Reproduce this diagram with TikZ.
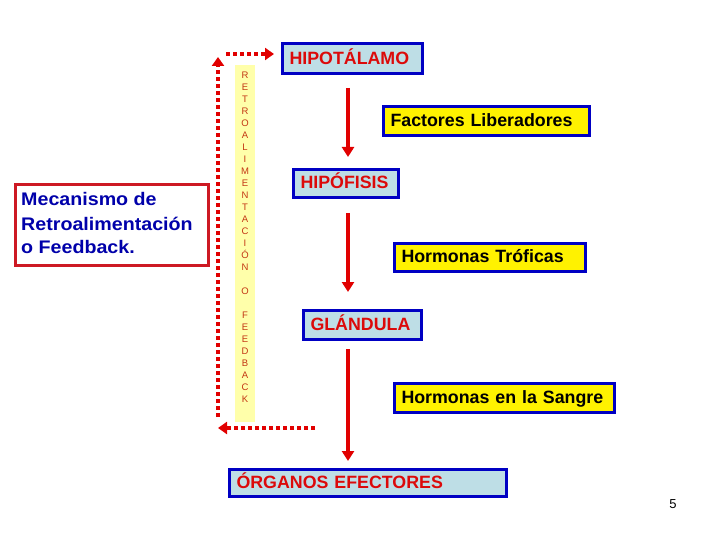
\documentclass[tikz,border=0pt]{standalone}
\usepackage{fontspec}
\setmainfont{Liberation Sans}
\newfontfamily\mfont[FakeStretch=1.08]{Liberation Sans Bold}
\usetikzlibrary{arrows.meta}
\definecolor{lblue}{RGB}{190,222,230}
\definecolor{bborder}{RGB}{0,0,195}
\definecolor{ared}{RGB}{225,0,0}
\definecolor{tred}{RGB}{220,10,10}
\definecolor{mborder}{RGB}{205,25,35}
\definecolor{mtext}{RGB}{0,0,170}
\definecolor{stripy}{RGB}{255,255,170}
\definecolor{stript}{RGB}{195,55,20}
\begin{document}
\begin{tikzpicture}[x=1pt,y=-1pt,
  box/.style={draw=bborder, line width=3pt, inner xsep=7pt, inner ysep=0pt,
    align=left, text height=12.7pt, text depth=2pt,
    font=\fontsize{17.8}{20}\selectfont\bfseries},
  bluebox/.style={box, fill=lblue, text=tred},
  yelbox/.style={box, fill=yellow, text=black},
  redarrow/.style={draw=ared, line width=4pt, -{Triangle[length=10pt,width=12pt]}},
  dotarrow/.style={draw=ared, line width=4pt, dash pattern=on 4pt off 3pt,
    -{Triangle[length=9pt,width=12pt]}},
  mline/.style={anchor=base west, inner sep=0pt, text=mtext,
    font=\mfont\fontsize{18.2}{24}\selectfont},
  stripletter/.style={anchor=base, inner sep=0pt, text=stript,
    font=\fontsize{9.5}{12}\selectfont}
]
\useasboundingbox (0,0) rectangle (720,540);

% yellow strip
\node[fill=stripy, minimum width=20pt, minimum height=357pt, inner sep=0pt] (strip) at (245,243.5) {};
\foreach \l [count=\i] in {R,E,T,R,O,A,L,I,M,E,N,T,A,C,I,Ó,N,{},O,{},F,E,E,D,B,A,C,K}
  \node[stripletter] (s\i) at (245,{75+12*(\i-1)+3.4}) {\l};

% boxes
\node[bluebox, minimum width=140pt, minimum height=30pt, text width=126pt] (hipot) at (352.5,58.8) {HIPOTÁLAMO};
\node[yelbox, minimum width=206pt, minimum height=29pt, text width=192pt] (fact) at (486.5,121) {Factores Liberadores};
\node[bluebox, minimum width=105pt, minimum height=28pt, text width=91pt] (hipof) at (346,183.5) {HIPÓFISIS};
\node[yelbox, minimum width=191pt, minimum height=28pt, text width=177pt] (trof) at (490,257.5) {Hormonas Tróficas};
\node[bluebox, minimum width=118pt, minimum height=29pt, text width=104pt] (gland) at (362.5,325) {GLÁNDULA};
\node[yelbox, minimum width=220pt, minimum height=29pt, text width=206pt] (sang) at (504.5,398) {Hormonas en la Sangre};
\node[bluebox, minimum width=277pt, minimum height=27pt, text width=263pt] (organ) at (368,483) {ÓRGANOS EFECTORES};

% mecanismo box
\node[draw=mborder, line width=3pt, fill=white, minimum width=193pt, minimum height=81pt, inner sep=0pt] (mech) at (112,225) {};
\node[mline] (m1) at (21,206) {Mecanismo de};
\node[mline] (m2) at (21,230) {Retroalimentación};
\node[mline] (m3) at (21,254) {o Feedback.};

% solid arrows
\coordinate (a1s) at (348,88);  \coordinate (a1e) at (348,157);
\coordinate (a2s) at (348,213); \coordinate (a2e) at (348,292);
\coordinate (a3s) at (348,349); \coordinate (a3e) at (348,461);
\draw[redarrow] (a1s) -- (a1e);
\draw[redarrow] (a2s) -- (a2e);
\draw[redarrow] (a3s) -- (a3e);

% feedback dotted arrows
\coordinate (f1) at (218,417); \coordinate (f2) at (218,57);
\coordinate (f3) at (226,54);  \coordinate (f4) at (274,54);
\coordinate (f5) at (315,428); \coordinate (f6) at (218,428);
\draw[dotarrow] (f1) -- (f2);
\draw[dotarrow] (f3) -- (f4);
\draw[dotarrow] (f5) -- (f6);

% page number
\node[font=\fontsize{13}{15}\selectfont, inner sep=0pt] (pg) at (673,504) {5};
\end{tikzpicture}
\end{document}
